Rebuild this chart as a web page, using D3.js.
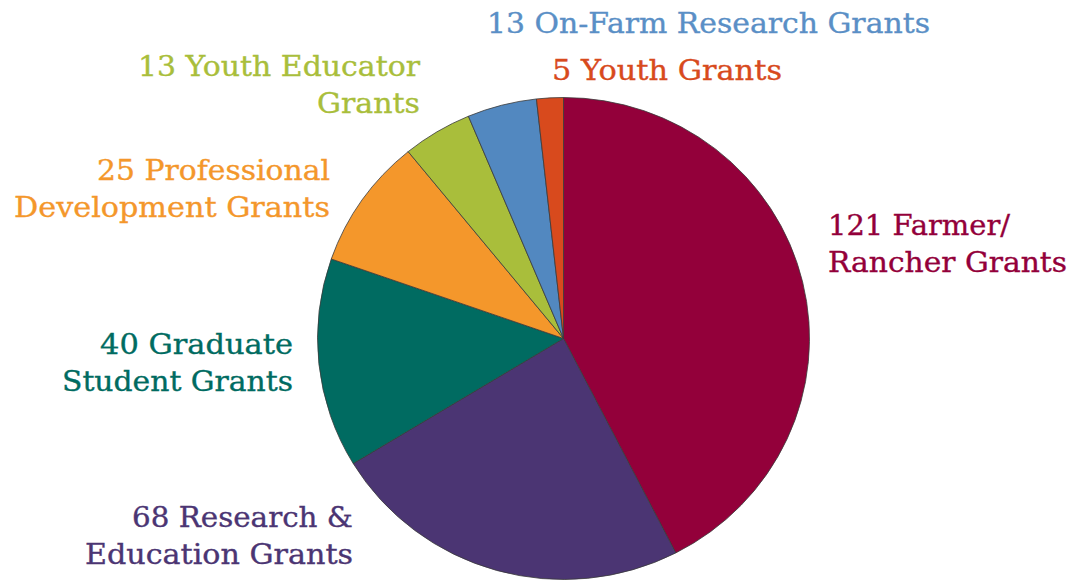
<!DOCTYPE html>
<html>
<head>
<meta charset="utf-8">
<script src="https://cdn.jsdelivr.net/npm/d3@7"></script>
<style>
  html, body { margin: 0; padding: 0; background: #ffffff; }
  svg { display: block; }
</style>
</head>
<body>
<div id="chart"></div>
<script>
// ---- data ----
const categories = ["Farmer/Rancher", "Research & Education", "Graduate Student",
  "Professional Development", "Youth Educator", "On-Farm Research", "Youth"];
const grantCounts = [121, 68, 40, 25, 13, 13, 5];
const labelLines = [
  ["121 Farmer/", "Rancher Grants"],
  ["68 Research &", "Education Grants"],
  ["40 Graduate", "Student Grants"],
  ["25 Professional", "Development Grants"],
  ["13 Youth Educator", "Grants"],
  ["13 On-Farm Research Grants"],
  ["5 Youth Grants"]
];
const sliceColors = ["#93003A", "#4B3573", "#006B61", "#F4972B", "#A9BE3B", "#5288C0", "#D84A1D"];
const textColors  = ["#93003A", "#4B3573", "#006B61", "#F4972B", "#A9BE3B", "#5A8FC6", "#D84A1D"];

// ---- layout (label anchor, first baseline, per-line target widths) ----
const labelLayout = [
  { x: 828, y: 235, anchor: "start", widths: [182, 239] },
  { x: 353, y: 527, anchor: "end",   widths: [221, 268] },
  { x: 293, y: 354, anchor: "end",   widths: [193, 231] },
  { x: 330, y: 180, anchor: "end",   widths: [233, 316] },
  { x: 420, y: 76,  anchor: "end",   widths: [282, 103] },
  { x: 487, y: 33,  anchor: "start", widths: [443] },
  { x: 552, y: 80,  anchor: "start", widths: [230] }
];

const W = 1085, H = 580;
const cx = 563.5, cy = 338.5, rx = 246, ry = 241;
const lineGap = 36.5;

const svg = d3.select("#chart").append("svg")
  .attr("width", W).attr("height", H);

const data = categories.map((c, i) => ({ name: c, value: grantCounts[i], i }));

const pie = d3.pie().value(d => d.value).sort(null);
const arc = d3.arc().innerRadius(0).outerRadius(ry);

const g = svg.append("g")
  .attr("transform", `translate(${cx},${cy}) scale(${rx / ry},1)`);

g.selectAll("path")
  .data(pie(data))
  .join("path")
  .attr("d", arc)
  .attr("fill", d => sliceColors[d.data.i])
  .attr("stroke", "#3a3a3a")
  .attr("stroke-width", 0.8)
  .attr("vector-effect", "non-scaling-stroke");

const labels = svg.append("g")
  .attr("font-family", "'DejaVu Serif', 'Liberation Serif', serif")
  .attr("font-size", 27.5);

data.forEach((d, i) => {
  const L = labelLayout[i];
  const t = labels.append("text")
    .attr("text-anchor", L.anchor)
    .attr("fill", textColors[i])
    .attr("stroke", textColors[i])
    .attr("stroke-width", 0.35);
  labelLines[i].forEach((line, k) => {
    t.append("tspan")
      .attr("x", L.x)
      .attr("y", L.y + k * lineGap)
      .attr("textLength", L.widths[k])
      .attr("lengthAdjust", "spacingAndGlyphs")
      .text(line);
  });
});
</script>
</body>
</html>
